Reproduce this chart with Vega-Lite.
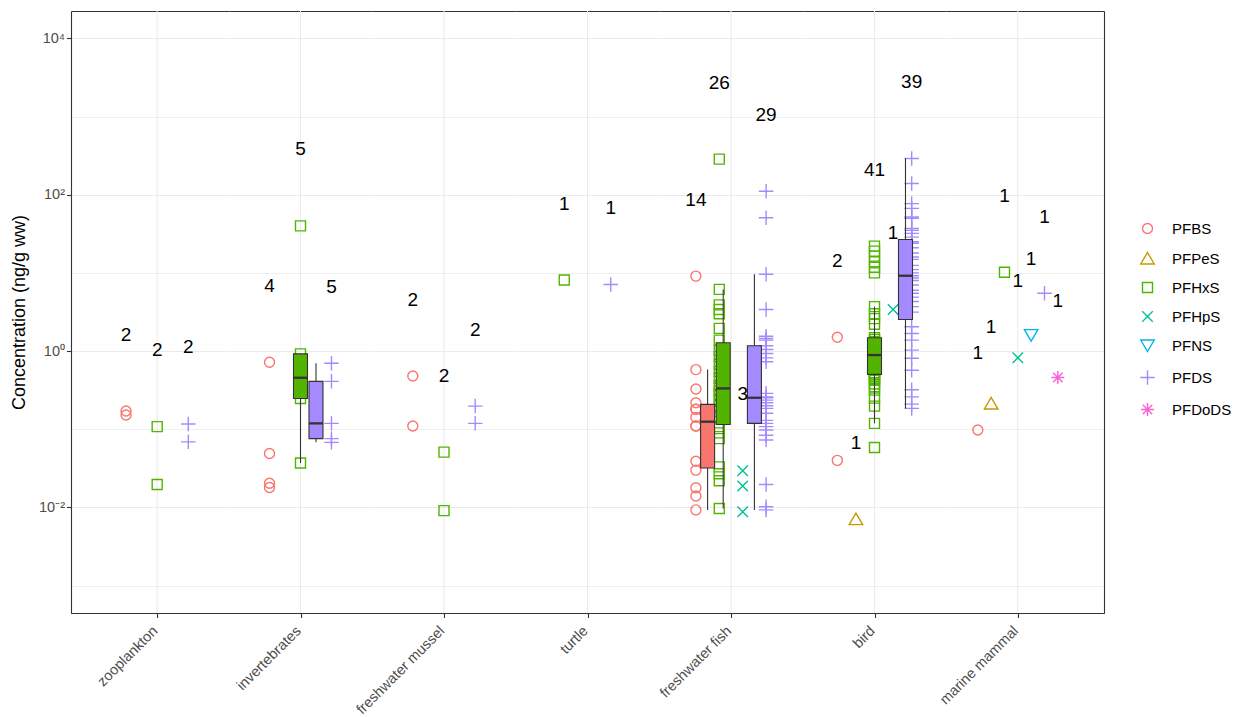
{
 "$schema": "https://vega.github.io/schema/vega-lite/v6.json",
 "padding": {"left": 10, "top": 3, "right": 5, "bottom": 5},
 "background": "white",
 "spacing": 0,
 "bounds": "flush",
 "config": {"font": "Liberation Sans", "view": {"stroke": null}},
 "datasets": {
  "pts": [
   {"category":"zooplankton","compound":"PFBS","value":0.171},
   {"category":"zooplankton","compound":"PFBS","value":0.152},
   {"category":"zooplankton","compound":"PFHxS","value":0.108},
   {"category":"zooplankton","compound":"PFHxS","value":0.0197},
   {"category":"zooplankton","compound":"PFDS","value":0.117},
   {"category":"zooplankton","compound":"PFDS","value":0.069},
   {"category":"invertebrates","compound":"PFBS","value":0.72},
   {"category":"invertebrates","compound":"PFBS","value":0.049},
   {"category":"invertebrates","compound":"PFBS","value":0.0204},
   {"category":"invertebrates","compound":"PFBS","value":0.018},
   {"category":"invertebrates","compound":"PFHxS","value":40},
   {"category":"invertebrates","compound":"PFHxS","value":0.92},
   {"category":"invertebrates","compound":"PFHxS","value":0.456},
   {"category":"invertebrates","compound":"PFHxS","value":0.248},
   {"category":"invertebrates","compound":"PFHxS","value":0.037},
   {"category":"invertebrates","compound":"PFDS","value":0.7},
   {"category":"invertebrates","compound":"PFDS","value":0.41},
   {"category":"invertebrates","compound":"PFDS","value":0.119},
   {"category":"invertebrates","compound":"PFDS","value":0.076},
   {"category":"invertebrates","compound":"PFDS","value":0.068},
   {"category":"freshwater mussel","compound":"PFBS","value":0.48},
   {"category":"freshwater mussel","compound":"PFBS","value":0.11},
   {"category":"freshwater mussel","compound":"PFHxS","value":0.051},
   {"category":"freshwater mussel","compound":"PFHxS","value":0.0091},
   {"category":"freshwater mussel","compound":"PFDS","value":0.198},
   {"category":"freshwater mussel","compound":"PFDS","value":0.119},
   {"category":"turtle","compound":"PFHxS","value":8.1},
   {"category":"turtle","compound":"PFDS","value":7.1},
   {"category":"freshwater fish","compound":"PFBS","value":9.1},
   {"category":"freshwater fish","compound":"PFBS","value":0.58},
   {"category":"freshwater fish","compound":"PFBS","value":0.327},
   {"category":"freshwater fish","compound":"PFBS","value":0.218},
   {"category":"freshwater fish","compound":"PFBS","value":0.18},
   {"category":"freshwater fish","compound":"PFBS","value":0.18},
   {"category":"freshwater fish","compound":"PFBS","value":0.142},
   {"category":"freshwater fish","compound":"PFBS","value":0.11},
   {"category":"freshwater fish","compound":"PFBS","value":0.11},
   {"category":"freshwater fish","compound":"PFBS","value":0.039},
   {"category":"freshwater fish","compound":"PFBS","value":0.03},
   {"category":"freshwater fish","compound":"PFBS","value":0.0179},
   {"category":"freshwater fish","compound":"PFBS","value":0.014},
   {"category":"freshwater fish","compound":"PFBS","value":0.0093},
   {"category":"freshwater fish","compound":"PFHxS","value":285},
   {"category":"freshwater fish","compound":"PFHxS","value":6.15},
   {"category":"freshwater fish","compound":"PFHxS","value":3.9},
   {"category":"freshwater fish","compound":"PFHxS","value":3.4},
   {"category":"freshwater fish","compound":"PFHxS","value":3.0},
   {"category":"freshwater fish","compound":"PFHxS","value":1.95},
   {"category":"freshwater fish","compound":"PFHxS","value":1.38},
   {"category":"freshwater fish","compound":"PFHxS","value":1.02},
   {"category":"freshwater fish","compound":"PFHxS","value":0.85},
   {"category":"freshwater fish","compound":"PFHxS","value":0.68},
   {"category":"freshwater fish","compound":"PFHxS","value":0.55},
   {"category":"freshwater fish","compound":"PFHxS","value":0.45},
   {"category":"freshwater fish","compound":"PFHxS","value":0.36},
   {"category":"freshwater fish","compound":"PFHxS","value":0.31},
   {"category":"freshwater fish","compound":"PFHxS","value":0.28},
   {"category":"freshwater fish","compound":"PFHxS","value":0.24},
   {"category":"freshwater fish","compound":"PFHxS","value":0.2},
   {"category":"freshwater fish","compound":"PFHxS","value":0.17},
   {"category":"freshwater fish","compound":"PFHxS","value":0.14},
   {"category":"freshwater fish","compound":"PFHxS","value":0.108},
   {"category":"freshwater fish","compound":"PFHxS","value":0.09},
   {"category":"freshwater fish","compound":"PFHxS","value":0.076},
   {"category":"freshwater fish","compound":"PFHxS","value":0.033},
   {"category":"freshwater fish","compound":"PFHxS","value":0.027},
   {"category":"freshwater fish","compound":"PFHxS","value":0.022},
   {"category":"freshwater fish","compound":"PFHxS","value":0.0097},
   {"category":"freshwater fish","compound":"PFHpS","value":0.0295},
   {"category":"freshwater fish","compound":"PFHpS","value":0.0188},
   {"category":"freshwater fish","compound":"PFHpS","value":0.0088},
   {"category":"freshwater fish","compound":"PFDS","value":111},
   {"category":"freshwater fish","compound":"PFDS","value":50.7},
   {"category":"freshwater fish","compound":"PFDS","value":9.6},
   {"category":"freshwater fish","compound":"PFDS","value":3.4},
   {"category":"freshwater fish","compound":"PFDS","value":1.55},
   {"category":"freshwater fish","compound":"PFDS","value":1.45},
   {"category":"freshwater fish","compound":"PFDS","value":1.38},
   {"category":"freshwater fish","compound":"PFDS","value":1.17},
   {"category":"freshwater fish","compound":"PFDS","value":1.05},
   {"category":"freshwater fish","compound":"PFDS","value":0.93},
   {"category":"freshwater fish","compound":"PFDS","value":0.82},
   {"category":"freshwater fish","compound":"PFDS","value":0.73},
   {"category":"freshwater fish","compound":"PFDS","value":0.288},
   {"category":"freshwater fish","compound":"PFDS","value":0.26},
   {"category":"freshwater fish","compound":"PFDS","value":0.253},
   {"category":"freshwater fish","compound":"PFDS","value":0.236},
   {"category":"freshwater fish","compound":"PFDS","value":0.218},
   {"category":"freshwater fish","compound":"PFDS","value":0.2},
   {"category":"freshwater fish","compound":"PFDS","value":0.185},
   {"category":"freshwater fish","compound":"PFDS","value":0.16},
   {"category":"freshwater fish","compound":"PFDS","value":0.13},
   {"category":"freshwater fish","compound":"PFDS","value":0.119},
   {"category":"freshwater fish","compound":"PFDS","value":0.108},
   {"category":"freshwater fish","compound":"PFDS","value":0.098},
   {"category":"freshwater fish","compound":"PFDS","value":0.084},
   {"category":"freshwater fish","compound":"PFDS","value":0.073},
   {"category":"freshwater fish","compound":"PFDS","value":0.0197},
   {"category":"freshwater fish","compound":"PFDS","value":0.0102},
   {"category":"freshwater fish","compound":"PFDS","value":0.0093},
   {"category":"bird","compound":"PFBS","value":1.5},
   {"category":"bird","compound":"PFBS","value":0.04},
   {"category":"bird","compound":"PFPeS","value":0.0071},
   {"category":"bird","compound":"PFHxS","value":22},
   {"category":"bird","compound":"PFHxS","value":19},
   {"category":"bird","compound":"PFHxS","value":16.4},
   {"category":"bird","compound":"PFHxS","value":13.9},
   {"category":"bird","compound":"PFHxS","value":11.8},
   {"category":"bird","compound":"PFHxS","value":10.0},
   {"category":"bird","compound":"PFHxS","value":3.7},
   {"category":"bird","compound":"PFHxS","value":3.0},
   {"category":"bird","compound":"PFHxS","value":2.6},
   {"category":"bird","compound":"PFHxS","value":2.2},
   {"category":"bird","compound":"PFHxS","value":1.48},
   {"category":"bird","compound":"PFHxS","value":1.4},
   {"category":"bird","compound":"PFHxS","value":1.32},
   {"category":"bird","compound":"PFHxS","value":1.25},
   {"category":"bird","compound":"PFHxS","value":1.18},
   {"category":"bird","compound":"PFHxS","value":1.1},
   {"category":"bird","compound":"PFHxS","value":1.05},
   {"category":"bird","compound":"PFHxS","value":1.0},
   {"category":"bird","compound":"PFHxS","value":0.96},
   {"category":"bird","compound":"PFHxS","value":0.92},
   {"category":"bird","compound":"PFHxS","value":0.89},
   {"category":"bird","compound":"PFHxS","value":0.86},
   {"category":"bird","compound":"PFHxS","value":0.82},
   {"category":"bird","compound":"PFHxS","value":0.78},
   {"category":"bird","compound":"PFHxS","value":0.74},
   {"category":"bird","compound":"PFHxS","value":0.7},
   {"category":"bird","compound":"PFHxS","value":0.65},
   {"category":"bird","compound":"PFHxS","value":0.6},
   {"category":"bird","compound":"PFHxS","value":0.57},
   {"category":"bird","compound":"PFHxS","value":0.53},
   {"category":"bird","compound":"PFHxS","value":0.503},
   {"category":"bird","compound":"PFHxS","value":0.48},
   {"category":"bird","compound":"PFHxS","value":0.45},
   {"category":"bird","compound":"PFHxS","value":0.43},
   {"category":"bird","compound":"PFHxS","value":0.38},
   {"category":"bird","compound":"PFHxS","value":0.35},
   {"category":"bird","compound":"PFHxS","value":0.317},
   {"category":"bird","compound":"PFHxS","value":0.25},
   {"category":"bird","compound":"PFHxS","value":0.198},
   {"category":"bird","compound":"PFHxS","value":0.119},
   {"category":"bird","compound":"PFHxS","value":0.0585},
   {"category":"bird","compound":"PFHpS","value":3.4},
   {"category":"bird","compound":"PFDS","value":291},
   {"category":"bird","compound":"PFDS","value":139},
   {"category":"bird","compound":"PFDS","value":77},
   {"category":"bird","compound":"PFDS","value":67},
   {"category":"bird","compound":"PFDS","value":52},
   {"category":"bird","compound":"PFDS","value":50},
   {"category":"bird","compound":"PFDS","value":37},
   {"category":"bird","compound":"PFDS","value":35},
   {"category":"bird","compound":"PFDS","value":32},
   {"category":"bird","compound":"PFDS","value":28.7},
   {"category":"bird","compound":"PFDS","value":25},
   {"category":"bird","compound":"PFDS","value":24},
   {"category":"bird","compound":"PFDS","value":21},
   {"category":"bird","compound":"PFDS","value":18},
   {"category":"bird","compound":"PFDS","value":16},
   {"category":"bird","compound":"PFDS","value":14.9},
   {"category":"bird","compound":"PFDS","value":12.5},
   {"category":"bird","compound":"PFDS","value":11},
   {"category":"bird","compound":"PFDS","value":10},
   {"category":"bird","compound":"PFDS","value":9.2},
   {"category":"bird","compound":"PFDS","value":8.6},
   {"category":"bird","compound":"PFDS","value":8.0},
   {"category":"bird","compound":"PFDS","value":7.0},
   {"category":"bird","compound":"PFDS","value":6.0},
   {"category":"bird","compound":"PFDS","value":5.5},
   {"category":"bird","compound":"PFDS","value":4.9},
   {"category":"bird","compound":"PFDS","value":4.3},
   {"category":"bird","compound":"PFDS","value":3.7},
   {"category":"bird","compound":"PFDS","value":3.15},
   {"category":"bird","compound":"PFDS","value":2.05},
   {"category":"bird","compound":"PFDS","value":1.68},
   {"category":"bird","compound":"PFDS","value":1.38},
   {"category":"bird","compound":"PFDS","value":1.03},
   {"category":"bird","compound":"PFDS","value":0.81},
   {"category":"bird","compound":"PFDS","value":0.57},
   {"category":"bird","compound":"PFDS","value":0.32},
   {"category":"bird","compound":"PFDS","value":0.26},
   {"category":"bird","compound":"PFDS","value":0.21},
   {"category":"bird","compound":"PFDS","value":0.185},
   {"category":"marine mammal","compound":"PFBS","value":0.098},
   {"category":"marine mammal","compound":"PFPeS","value":0.214},
   {"category":"marine mammal","compound":"PFHxS","value":10.2},
   {"category":"marine mammal","compound":"PFHpS","value":0.82},
   {"category":"marine mammal","compound":"PFNS","value":1.6},
   {"category":"marine mammal","compound":"PFDS","value":5.5},
   {"category":"marine mammal","compound":"PFDoDS","value":0.46}
  ],
  "box": [
   {"category":"invertebrates","compound":"PFHxS","lo":0.037,"q1":0.248,"median":0.456,"q3":0.92,"hi":0.92},
   {"category":"invertebrates","compound":"PFDS","lo":0.068,"q1":0.076,"median":0.119,"q3":0.41,"hi":0.7},
   {"category":"freshwater fish","compound":"PFBS","lo":0.0093,"q1":0.032,"median":0.125,"q3":0.208,"hi":0.58},
   {"category":"freshwater fish","compound":"PFHxS","lo":0.0097,"q1":0.115,"median":0.333,"q3":1.28,"hi":6.15},
   {"category":"freshwater fish","compound":"PFDS","lo":0.0093,"q1":0.119,"median":0.253,"q3":1.17,"hi":9.6},
   {"category":"bird","compound":"PFHxS","lo":0.119,"q1":0.503,"median":0.89,"q3":1.48,"hi":3.7},
   {"category":"bird","compound":"PFDS","lo":0.185,"q1":2.54,"median":9.2,"q3":26.8,"hi":291}
  ]
 },
 "hconcat": [
  {
   "width": 158, "height": 602,
   "layer": [
    {"data": {"name": "pts"}, "transform": [{"filter": "datum.category == 'zooplankton'"}, {"aggregate": [{"op": "count", "as": "n"}], "groupby": ["category"]}],
     "mark": {"type": "rule", "color": "#EBEBEB", "strokeWidth": 1.1},
     "encoding": {"x": {"field": "category", "type": "nominal", "scale": {"type": "point", "align": 0.5455},
       "axis": {"title": null, "labelAngle": -45, "labelAlign": "right", "labelBaseline": "middle", "labelFontSize": 14.5, "labelColor": "#4D4D4D", "labelPadding": 11, "labelOffset": -2, "tickSize": 4.5, "tickColor": "#333333", "tickWidth": 1.1, "domainColor": "#333333", "domainWidth": 1.1, "grid": false}}}},
    {"data": {"name": "pts"}, "transform": [{"filter": "datum.category == 'zooplankton'"}],
     "mark": {"type": "point", "filled": false, "size": 100, "strokeWidth": 1.4, "opacity": 1},
     "encoding": {
      "x": {"field": "compound", "type": "nominal", "scale": {"type": "point", "domain": ["_a","PFBS","PFHxS","PFDS","_b"], "padding": 0.5385, "align": 0.714}, "axis": null},
      "y": {"field": "value", "type": "quantitative", "scale": {"type": "log", "domain": [0.000446684, 22387.21], "nice": false},
        "axis": {"orient": "left", "title": "Concentration (ng/g ww)", "titleFontSize": 18, "titleFontWeight": "normal", "titleColor": "#000000", "titlePadding": 10,
          "values": [0.000446684, 0.001, 0.01, 0.1, 1, 10, 100, 1000, 10000, 22387.21],
          "labelExpr": "datum.value == 10000 ? '10⁴' : datum.value == 100 ? '10²' : datum.value == 1 ? '10⁰' : datum.value == 0.01 ? '10⁻²' : ''",
          "labelFontSize": 14.5, "labelColor": "#4D4D4D", "labelPadding": 2, "labelOverlap": false, "labelFlush": false,
          "tickSize": 4.5, "tickColor": "#333333", "tickWidth": 1.1,
          "tickOpacity": {"condition": {"test": "datum.value == 0.01 || datum.value == 1 || datum.value == 100 || datum.value == 10000", "value": 1}, "value": 0},
          "grid": true,
          "gridColor": {"condition": {"test": "datum.value < 0.0005 || datum.value > 20000", "value": "#333333"}, "value": "#EBEBEB"},
          "gridWidth": {"condition": {"test": "datum.value < 0.0005 || datum.value > 20000 || datum.value == 0.01 || datum.value == 1 || datum.value == 100 || datum.value == 10000", "value": 1.1}, "value": 0.8},
          "domain": true, "domainColor": "#333333", "domainWidth": 1.1}},
      "color": {"field": "compound", "type": "nominal",
        "scale": {"domain": ["PFBS","PFPeS","PFHxS","PFHpS","PFNS","PFDS","PFDoDS"], "range": ["#F8766D","#C49A00","#53B400","#00C094","#00B6EB","#A58AFF","#FB61D7"]},
        "legend": {"title": null, "orient": "none", "legendX": 1069, "legendY": 210, "labelFontSize": 15, "labelColor": "#000000", "labelOffset": 17, "rowPadding": 12, "symbolSize": 100, "symbolStrokeWidth": 1.4, "symbolFillColor": "transparent", "padding": 0}},
      "shape": {"field": "compound", "type": "nominal",
        "scale": {"domain": ["PFBS","PFPeS","PFHxS","PFHpS","PFNS","PFDS","PFDoDS"], "range": ["circle", "M0,-1.2L1.35,1.1L-1.35,1.1Z", "square", "M-1.05,-1.05L1.05,1.05M-1.05,1.05L1.05,-1.05", "M0,1.2L1.35,-1.1L-1.35,-1.1Z", "M-1.45,0L1.45,0M0,-1.45L0,1.45", "M-1.3,0L1.3,0M0,-1.3L0,1.3M-0.95,-0.95L0.95,0.95M-0.95,0.95L0.95,-0.95"]},
        "legend": {"title": null, "orient": "none", "legendX": 1069, "legendY": 210, "labelFontSize": 15, "labelColor": "#000000", "labelOffset": 17, "rowPadding": 12, "symbolSize": 100, "symbolStrokeWidth": 1.4, "symbolFillColor": "transparent", "padding": 0}}
     }},
    {"data": {"name": "pts"}, "transform": [{"filter": "datum.category == 'zooplankton'"}, {"aggregate": [{"op": "count", "as": "n"}, {"op": "max", "field": "value", "as": "vmax"}], "groupby": ["compound"]}],
     "mark": {"type": "text", "dy": -76.5, "fontSize": 19, "color": "#000000", "baseline": "middle", "align": "center"},
     "encoding": {"x": {"field": "compound", "type": "nominal", "scale": {"type": "point", "domain": ["_a","PFBS","PFHxS","PFDS","_b"], "padding": 0.5385, "align": 0.714}, "axis": null},
       "y": {"field": "vmax", "type": "quantitative"}, "text": {"field": "n", "type": "quantitative"}}}
   ],
   "resolve": {"scale": {"x": "independent"}}
  },
  {
   "width": 143, "height": 602,
   "layer": [
    {"data": {"name": "pts"}, "transform": [{"filter": "datum.category == 'invertebrates'"}, {"aggregate": [{"op": "count", "as": "n"}], "groupby": ["category"]}],
     "mark": {"type": "rule", "color": "#EBEBEB", "strokeWidth": 1.1},
     "encoding": {"x": {"field": "category", "type": "nominal", "scale": {"type": "point", "align": 0.5},
       "axis": {"title": null, "labelAngle": -45, "labelAlign": "right", "labelBaseline": "middle", "labelFontSize": 14.5, "labelColor": "#4D4D4D", "labelPadding": 11, "labelOffset": -2, "tickSize": 4.5, "tickColor": "#333333", "tickWidth": 1.1, "domainColor": "#333333", "domainWidth": 1.1, "grid": false}}}},
    {"data": {"name": "pts"}, "transform": [{"filter": "datum.category == 'invertebrates'"}],
     "mark": {"type": "point", "filled": false, "size": 100, "strokeWidth": 1.4, "opacity": 1},
     "encoding": {
      "x": {"field": "compound", "type": "nominal", "scale": {"type": "point", "domain": ["_a","PFBS","PFHxS","PFDS","_b"], "padding": 0.3077, "align": 0.5}, "axis": null},
      "y": {"field": "value", "type": "quantitative", "scale": {"type": "log", "domain": [0.000446684, 22387.21], "nice": false},
        "axis": {"orient": "left", "title": null, "values": [0.000446684, 0.001, 0.01, 0.1, 1, 10, 100, 1000, 10000, 22387.21], "labels": false, "ticks": false, "domain": false, "grid": true,
          "gridColor": {"condition": {"test": "datum.value < 0.0005 || datum.value > 20000", "value": "#333333"}, "value": "#EBEBEB"},
          "gridWidth": {"condition": {"test": "datum.value < 0.0005 || datum.value > 20000 || datum.value == 0.01 || datum.value == 1 || datum.value == 100 || datum.value == 10000", "value": 1.1}, "value": 0.8}}},
      "color": {"field": "compound", "type": "nominal", "scale": {"domain": ["PFBS","PFPeS","PFHxS","PFHpS","PFNS","PFDS","PFDoDS"], "range": ["#F8766D","#C49A00","#53B400","#00C094","#00B6EB","#A58AFF","#FB61D7"]}},
      "shape": {"field": "compound", "type": "nominal", "scale": {"domain": ["PFBS","PFPeS","PFHxS","PFHpS","PFNS","PFDS","PFDoDS"], "range": ["circle", "M0,-1.2L1.35,1.1L-1.35,1.1Z", "square", "M-1.05,-1.05L1.05,1.05M-1.05,1.05L1.05,-1.05", "M0,1.2L1.35,-1.1L-1.35,-1.1Z", "M-1.45,0L1.45,0M0,-1.45L0,1.45", "M-1.3,0L1.3,0M0,-1.3L0,1.3M-0.95,-0.95L0.95,0.95M-0.95,0.95L0.95,-0.95"]}}
     }},
    {"data": {"name": "box"}, "transform": [{"filter": "datum.category == 'invertebrates'"}],
     "layer": [
      {"mark": {"type": "rule", "color": "#333333", "strokeWidth": 1.1},
       "encoding": {"x": {"field": "compound", "type": "nominal", "scale": {"type": "point", "domain": ["_a","_b","_c","_d","PFHxS","PFDS","_e","_f","_g"], "padding": 0.615, "align": 0.5}, "axis": null},
         "y": {"field": "lo", "type": "quantitative"}, "y2": {"field": "hi"}}},
      {"mark": {"type": "bar", "width": 14, "stroke": "#333333", "strokeWidth": 1.1},
       "encoding": {"x": {"field": "compound", "type": "nominal"}, "y": {"field": "q1", "type": "quantitative"}, "y2": {"field": "q3"},
         "fill": {"field": "compound", "type": "nominal", "scale": {"domain": ["PFBS","PFHxS","PFDS"], "range": ["#F8766D","#53B400","#A58AFF"]}, "legend": null}}},
      {"mark": {"type": "tick", "color": "#333333", "size": 14, "thickness": 2.3, "opacity": 1},
       "encoding": {"x": {"field": "compound", "type": "nominal"}, "y": {"field": "median", "type": "quantitative"}}}
     ]},
    {"data": {"name": "pts"}, "transform": [{"filter": "datum.category == 'invertebrates'"}, {"aggregate": [{"op": "count", "as": "n"}, {"op": "max", "field": "value", "as": "vmax"}], "groupby": ["compound"]}],
     "mark": {"type": "text", "dy": -76.5, "fontSize": 19, "color": "#000000", "baseline": "middle", "align": "center"},
     "encoding": {"x": {"field": "compound", "type": "nominal", "scale": {"type": "point", "domain": ["_a","PFBS","PFHxS","PFDS","_b"], "padding": 0.3077, "align": 0.5}, "axis": null},
       "y": {"field": "vmax", "type": "quantitative"}, "text": {"field": "n", "type": "quantitative"}}}
   ],
   "resolve": {"scale": {"x": "independent"}}
  },
  {
   "width": 144, "height": 602,
   "layer": [
    {"data": {"name": "pts"}, "transform": [{"filter": "datum.category == 'freshwater mussel'"}, {"aggregate": [{"op": "count", "as": "n"}], "groupby": ["category"]}],
     "mark": {"type": "rule", "color": "#EBEBEB", "strokeWidth": 1.1},
     "encoding": {"x": {"field": "category", "type": "nominal", "scale": {"type": "point", "align": 0.5},
       "axis": {"title": null, "labelAngle": -45, "labelAlign": "right", "labelBaseline": "middle", "labelFontSize": 14.5, "labelColor": "#4D4D4D", "labelPadding": 11, "labelOffset": -2, "tickSize": 4.5, "tickColor": "#333333", "tickWidth": 1.1, "domainColor": "#333333", "domainWidth": 1.1, "grid": false}}}},
    {"data": {"name": "pts"}, "transform": [{"filter": "datum.category == 'freshwater mussel'"}],
     "mark": {"type": "point", "filled": false, "size": 100, "strokeWidth": 1.4, "opacity": 1},
     "encoding": {
      "x": {"field": "compound", "type": "nominal", "scale": {"type": "point", "domain": ["_a","PFBS","PFHxS","PFDS","_b"], "padding": 0.3077, "align": 0.5}, "axis": null},
      "y": {"field": "value", "type": "quantitative", "scale": {"type": "log", "domain": [0.000446684, 22387.21], "nice": false},
        "axis": {"orient": "left", "title": null, "values": [0.000446684, 0.001, 0.01, 0.1, 1, 10, 100, 1000, 10000, 22387.21], "labels": false, "ticks": false, "domain": false, "grid": true,
          "gridColor": {"condition": {"test": "datum.value < 0.0005 || datum.value > 20000", "value": "#333333"}, "value": "#EBEBEB"},
          "gridWidth": {"condition": {"test": "datum.value < 0.0005 || datum.value > 20000 || datum.value == 0.01 || datum.value == 1 || datum.value == 100 || datum.value == 10000", "value": 1.1}, "value": 0.8}}},
      "color": {"field": "compound", "type": "nominal", "scale": {"domain": ["PFBS","PFPeS","PFHxS","PFHpS","PFNS","PFDS","PFDoDS"], "range": ["#F8766D","#C49A00","#53B400","#00C094","#00B6EB","#A58AFF","#FB61D7"]}},
      "shape": {"field": "compound", "type": "nominal", "scale": {"domain": ["PFBS","PFPeS","PFHxS","PFHpS","PFNS","PFDS","PFDoDS"], "range": ["circle", "M0,-1.2L1.35,1.1L-1.35,1.1Z", "square", "M-1.05,-1.05L1.05,1.05M-1.05,1.05L1.05,-1.05", "M0,1.2L1.35,-1.1L-1.35,-1.1Z", "M-1.45,0L1.45,0M0,-1.45L0,1.45", "M-1.3,0L1.3,0M0,-1.3L0,1.3M-0.95,-0.95L0.95,0.95M-0.95,0.95L0.95,-0.95"]}}
     }},
    {"data": {"name": "pts"}, "transform": [{"filter": "datum.category == 'freshwater mussel'"}, {"aggregate": [{"op": "count", "as": "n"}, {"op": "max", "field": "value", "as": "vmax"}], "groupby": ["compound"]}],
     "mark": {"type": "text", "dy": -76.5, "fontSize": 19, "color": "#000000", "baseline": "middle", "align": "center"},
     "encoding": {"x": {"field": "compound", "type": "nominal", "scale": {"type": "point", "domain": ["_a","PFBS","PFHxS","PFDS","_b"], "padding": 0.3077, "align": 0.5}, "axis": null},
       "y": {"field": "vmax", "type": "quantitative"}, "text": {"field": "n", "type": "quantitative"}}}
   ],
   "resolve": {"scale": {"x": "independent"}}
  },
  {
   "width": 143, "height": 602,
   "layer": [
    {"data": {"name": "pts"}, "transform": [{"filter": "datum.category == 'turtle'"}, {"aggregate": [{"op": "count", "as": "n"}], "groupby": ["category"]}],
     "mark": {"type": "rule", "color": "#EBEBEB", "strokeWidth": 1.1},
     "encoding": {"x": {"field": "category", "type": "nominal", "scale": {"type": "point", "align": 0.5},
       "axis": {"title": null, "labelAngle": -45, "labelAlign": "right", "labelBaseline": "middle", "labelFontSize": 14.5, "labelColor": "#4D4D4D", "labelPadding": 11, "labelOffset": -2, "tickSize": 4.5, "tickColor": "#333333", "tickWidth": 1.1, "domainColor": "#333333", "domainWidth": 1.1, "grid": false}}}},
    {"data": {"name": "pts"}, "transform": [{"filter": "datum.category == 'turtle'"}],
     "mark": {"type": "point", "filled": false, "size": 100, "strokeWidth": 1.4, "opacity": 1},
     "encoding": {
      "x": {"field": "compound", "type": "nominal", "scale": {"type": "point", "domain": ["_a","PFHxS","PFDS","_b"], "padding": 0.0385, "align": 0.5}, "axis": null},
      "y": {"field": "value", "type": "quantitative", "scale": {"type": "log", "domain": [0.000446684, 22387.21], "nice": false},
        "axis": {"orient": "left", "title": null, "values": [0.000446684, 0.001, 0.01, 0.1, 1, 10, 100, 1000, 10000, 22387.21], "labels": false, "ticks": false, "domain": false, "grid": true,
          "gridColor": {"condition": {"test": "datum.value < 0.0005 || datum.value > 20000", "value": "#333333"}, "value": "#EBEBEB"},
          "gridWidth": {"condition": {"test": "datum.value < 0.0005 || datum.value > 20000 || datum.value == 0.01 || datum.value == 1 || datum.value == 100 || datum.value == 10000", "value": 1.1}, "value": 0.8}}},
      "color": {"field": "compound", "type": "nominal", "scale": {"domain": ["PFBS","PFPeS","PFHxS","PFHpS","PFNS","PFDS","PFDoDS"], "range": ["#F8766D","#C49A00","#53B400","#00C094","#00B6EB","#A58AFF","#FB61D7"]}},
      "shape": {"field": "compound", "type": "nominal", "scale": {"domain": ["PFBS","PFPeS","PFHxS","PFHpS","PFNS","PFDS","PFDoDS"], "range": ["circle", "M0,-1.2L1.35,1.1L-1.35,1.1Z", "square", "M-1.05,-1.05L1.05,1.05M-1.05,1.05L1.05,-1.05", "M0,1.2L1.35,-1.1L-1.35,-1.1Z", "M-1.45,0L1.45,0M0,-1.45L0,1.45", "M-1.3,0L1.3,0M0,-1.3L0,1.3M-0.95,-0.95L0.95,0.95M-0.95,0.95L0.95,-0.95"]}}
     }},
    {"data": {"name": "pts"}, "transform": [{"filter": "datum.category == 'turtle'"}, {"aggregate": [{"op": "count", "as": "n"}, {"op": "max", "field": "value", "as": "vmax"}], "groupby": ["compound"]}],
     "mark": {"type": "text", "dy": -76.5, "fontSize": 19, "color": "#000000", "baseline": "middle", "align": "center"},
     "encoding": {"x": {"field": "compound", "type": "nominal", "scale": {"type": "point", "domain": ["_a","PFHxS","PFDS","_b"], "padding": 0.0385, "align": 0.5}, "axis": null},
       "y": {"field": "vmax", "type": "quantitative"}, "text": {"field": "n", "type": "quantitative"}}}
   ],
   "resolve": {"scale": {"x": "independent"}}
  },
  {
   "width": 144, "height": 602,
   "layer": [
    {"data": {"name": "pts"}, "transform": [{"filter": "datum.category == 'freshwater fish'"}, {"aggregate": [{"op": "count", "as": "n"}], "groupby": ["category"]}],
     "mark": {"type": "rule", "color": "#EBEBEB", "strokeWidth": 1.1},
     "encoding": {"x": {"field": "category", "type": "nominal", "scale": {"type": "point", "align": 0.5},
       "axis": {"title": null, "labelAngle": -45, "labelAlign": "right", "labelBaseline": "middle", "labelFontSize": 14.5, "labelColor": "#4D4D4D", "labelPadding": 11, "labelOffset": -2, "tickSize": 4.5, "tickColor": "#333333", "tickWidth": 1.1, "domainColor": "#333333", "domainWidth": 1.1, "grid": false}}}},
    {"data": {"name": "pts"}, "transform": [{"filter": "datum.category == 'freshwater fish'"}],
     "mark": {"type": "point", "filled": false, "size": 100, "strokeWidth": 1.4, "opacity": 1},
     "encoding": {
      "x": {"field": "compound", "type": "nominal", "scale": {"type": "point", "domain": ["_a","PFBS","PFHxS","PFHpS","PFDS","_b"], "padding": 0.577, "align": 0.5}, "axis": null},
      "y": {"field": "value", "type": "quantitative", "scale": {"type": "log", "domain": [0.000446684, 22387.21], "nice": false},
        "axis": {"orient": "left", "title": null, "values": [0.000446684, 0.001, 0.01, 0.1, 1, 10, 100, 1000, 10000, 22387.21], "labels": false, "ticks": false, "domain": false, "grid": true,
          "gridColor": {"condition": {"test": "datum.value < 0.0005 || datum.value > 20000", "value": "#333333"}, "value": "#EBEBEB"},
          "gridWidth": {"condition": {"test": "datum.value < 0.0005 || datum.value > 20000 || datum.value == 0.01 || datum.value == 1 || datum.value == 100 || datum.value == 10000", "value": 1.1}, "value": 0.8}}},
      "color": {"field": "compound", "type": "nominal", "scale": {"domain": ["PFBS","PFPeS","PFHxS","PFHpS","PFNS","PFDS","PFDoDS"], "range": ["#F8766D","#C49A00","#53B400","#00C094","#00B6EB","#A58AFF","#FB61D7"]}},
      "shape": {"field": "compound", "type": "nominal", "scale": {"domain": ["PFBS","PFPeS","PFHxS","PFHpS","PFNS","PFDS","PFDoDS"], "range": ["circle", "M0,-1.2L1.35,1.1L-1.35,1.1Z", "square", "M-1.05,-1.05L1.05,1.05M-1.05,1.05L1.05,-1.05", "M0,1.2L1.35,-1.1L-1.35,-1.1Z", "M-1.45,0L1.45,0M0,-1.45L0,1.45", "M-1.3,0L1.3,0M0,-1.3L0,1.3M-0.95,-0.95L0.95,0.95M-0.95,0.95L0.95,-0.95"]}}
     }},
    {"data": {"name": "box"}, "transform": [{"filter": "datum.category == 'freshwater fish'"}],
     "layer": [
      {"mark": {"type": "rule", "color": "#333333", "strokeWidth": 1.1},
       "encoding": {"x": {"field": "compound", "type": "nominal", "scale": {"type": "point", "domain": ["_a","_b","_c","PFBS","PFHxS","PFHpS","PFDS","_d","_e","_f"], "padding": 0.115, "align": 0.5}, "axis": null},
         "y": {"field": "lo", "type": "quantitative"}, "y2": {"field": "hi"}}},
      {"mark": {"type": "bar", "width": 14, "stroke": "#333333", "strokeWidth": 1.1},
       "encoding": {"x": {"field": "compound", "type": "nominal"}, "y": {"field": "q1", "type": "quantitative"}, "y2": {"field": "q3"},
         "fill": {"field": "compound", "type": "nominal", "scale": {"domain": ["PFBS","PFHxS","PFDS"], "range": ["#F8766D","#53B400","#A58AFF"]}, "legend": null}}},
      {"mark": {"type": "tick", "color": "#333333", "size": 14, "thickness": 2.3, "opacity": 1},
       "encoding": {"x": {"field": "compound", "type": "nominal"}, "y": {"field": "median", "type": "quantitative"}}}
     ]},
    {"data": {"name": "pts"}, "transform": [{"filter": "datum.category == 'freshwater fish'"}, {"aggregate": [{"op": "count", "as": "n"}, {"op": "max", "field": "value", "as": "vmax"}], "groupby": ["compound"]}],
     "mark": {"type": "text", "dy": -76.5, "fontSize": 19, "color": "#000000", "baseline": "middle", "align": "center"},
     "encoding": {"x": {"field": "compound", "type": "nominal", "scale": {"type": "point", "domain": ["_a","PFBS","PFHxS","PFHpS","PFDS","_b"], "padding": 0.577, "align": 0.5}, "axis": null},
       "y": {"field": "vmax", "type": "quantitative"}, "text": {"field": "n", "type": "quantitative"}}}
   ],
   "resolve": {"scale": {"x": "independent"}}
  },
  {
   "width": 143, "height": 602,
   "layer": [
    {"data": {"name": "pts"}, "transform": [{"filter": "datum.category == 'bird'"}, {"aggregate": [{"op": "count", "as": "n"}], "groupby": ["category"]}],
     "mark": {"type": "rule", "color": "#EBEBEB", "strokeWidth": 1.1},
     "encoding": {"x": {"field": "category", "type": "nominal", "scale": {"type": "point", "align": 0.5},
       "axis": {"title": null, "labelAngle": -45, "labelAlign": "right", "labelBaseline": "middle", "labelFontSize": 14.5, "labelColor": "#4D4D4D", "labelPadding": 11, "labelOffset": -2, "tickSize": 4.5, "tickColor": "#333333", "tickWidth": 1.1, "domainColor": "#333333", "domainWidth": 1.1, "grid": false}}}},
    {"data": {"name": "pts"}, "transform": [{"filter": "datum.category == 'bird'"}],
     "mark": {"type": "point", "filled": false, "size": 100, "strokeWidth": 1.4, "opacity": 1},
     "encoding": {
      "x": {"field": "compound", "type": "nominal", "scale": {"type": "point", "domain": ["_a","PFBS","PFPeS","PFHxS","PFHpS","PFDS","_b"], "padding": 0.846, "align": 0.5}, "axis": null},
      "y": {"field": "value", "type": "quantitative", "scale": {"type": "log", "domain": [0.000446684, 22387.21], "nice": false},
        "axis": {"orient": "left", "title": null, "values": [0.000446684, 0.001, 0.01, 0.1, 1, 10, 100, 1000, 10000, 22387.21], "labels": false, "ticks": false, "domain": false, "grid": true,
          "gridColor": {"condition": {"test": "datum.value < 0.0005 || datum.value > 20000", "value": "#333333"}, "value": "#EBEBEB"},
          "gridWidth": {"condition": {"test": "datum.value < 0.0005 || datum.value > 20000 || datum.value == 0.01 || datum.value == 1 || datum.value == 100 || datum.value == 10000", "value": 1.1}, "value": 0.8}}},
      "color": {"field": "compound", "type": "nominal", "scale": {"domain": ["PFBS","PFPeS","PFHxS","PFHpS","PFNS","PFDS","PFDoDS"], "range": ["#F8766D","#C49A00","#53B400","#00C094","#00B6EB","#A58AFF","#FB61D7"]}},
      "shape": {"field": "compound", "type": "nominal", "scale": {"domain": ["PFBS","PFPeS","PFHxS","PFHpS","PFNS","PFDS","PFDoDS"], "range": ["circle", "M0,-1.2L1.35,1.1L-1.35,1.1Z", "square", "M-1.05,-1.05L1.05,1.05M-1.05,1.05L1.05,-1.05", "M0,1.2L1.35,-1.1L-1.35,-1.1Z", "M-1.45,0L1.45,0M0,-1.45L0,1.45", "M-1.3,0L1.3,0M0,-1.3L0,1.3M-0.95,-0.95L0.95,0.95M-0.95,0.95L0.95,-0.95"]}}
     }},
    {"data": {"name": "box"}, "transform": [{"filter": "datum.category == 'bird'"}],
     "layer": [
      {"mark": {"type": "rule", "color": "#333333", "strokeWidth": 1.1},
       "encoding": {"x": {"field": "compound", "type": "nominal", "scale": {"type": "point", "domain": ["_a","_b","PFHxS","PFDS","_c"], "padding": 0.3077, "align": 0.5}, "axis": null},
         "y": {"field": "lo", "type": "quantitative"}, "y2": {"field": "hi"}}},
      {"mark": {"type": "bar", "width": 14, "stroke": "#333333", "strokeWidth": 1.1},
       "encoding": {"x": {"field": "compound", "type": "nominal"}, "y": {"field": "q1", "type": "quantitative"}, "y2": {"field": "q3"},
         "fill": {"field": "compound", "type": "nominal", "scale": {"domain": ["PFBS","PFHxS","PFDS"], "range": ["#F8766D","#53B400","#A58AFF"]}, "legend": null}}},
      {"mark": {"type": "tick", "color": "#333333", "size": 14, "thickness": 2.3, "opacity": 1},
       "encoding": {"x": {"field": "compound", "type": "nominal"}, "y": {"field": "median", "type": "quantitative"}}}
     ]},
    {"data": {"name": "pts"}, "transform": [{"filter": "datum.category == 'bird'"}, {"aggregate": [{"op": "count", "as": "n"}, {"op": "max", "field": "value", "as": "vmax"}], "groupby": ["compound"]}],
     "mark": {"type": "text", "dy": -76.5, "fontSize": 19, "color": "#000000", "baseline": "middle", "align": "center"},
     "encoding": {"x": {"field": "compound", "type": "nominal", "scale": {"type": "point", "domain": ["_a","PFBS","PFPeS","PFHxS","PFHpS","PFDS","_b"], "padding": 0.846, "align": 0.5}, "axis": null},
       "y": {"field": "vmax", "type": "quantitative"}, "text": {"field": "n", "type": "quantitative"}}}
   ],
   "resolve": {"scale": {"x": "independent"}}
  },
  {
   "width": 158, "height": 602,
   "layer": [
    {"data": {"name": "pts"}, "transform": [{"filter": "datum.category == 'marine mammal'"}, {"aggregate": [{"op": "count", "as": "n"}], "groupby": ["category"]}],
     "mark": {"type": "rule", "color": "#EBEBEB", "strokeWidth": 1.1},
     "encoding": {"x": {"field": "category", "type": "nominal", "scale": {"type": "point", "align": 0.4545},
       "axis": {"title": null, "labelAngle": -45, "labelAlign": "right", "labelBaseline": "middle", "labelFontSize": 14.5, "labelColor": "#4D4D4D", "labelPadding": 11, "labelOffset": -2, "tickSize": 4.5, "tickColor": "#333333", "tickWidth": 1.1, "domainColor": "#333333", "domainWidth": 1.1, "grid": false}}}},
    {"data": {"name": "pts"}, "transform": [{"filter": "datum.category == 'marine mammal'"}],
     "mark": {"type": "point", "filled": false, "size": 100, "strokeWidth": 1.4, "opacity": 1},
     "encoding": {
      "x": {"field": "compound", "type": "nominal", "scale": {"type": "point", "domain": ["_a","_b","PFBS","PFPeS","PFHxS","PFHpS","PFNS","PFDS","PFDoDS","_c","_d"], "padding": 0.923, "align": 0.2083}, "axis": null},
      "y": {"field": "value", "type": "quantitative", "scale": {"type": "log", "domain": [0.000446684, 22387.21], "nice": false},
        "axis": {"orient": "right", "title": null, "values": [0.000446684, 0.001, 0.01, 0.1, 1, 10, 100, 1000, 10000, 22387.21], "labels": false, "ticks": false, "domain": true, "domainColor": "#333333", "domainWidth": 1.1, "grid": true,
          "gridColor": {"condition": {"test": "datum.value < 0.0005 || datum.value > 20000", "value": "#333333"}, "value": "#EBEBEB"},
          "gridWidth": {"condition": {"test": "datum.value < 0.0005 || datum.value > 20000 || datum.value == 0.01 || datum.value == 1 || datum.value == 100 || datum.value == 10000", "value": 1.1}, "value": 0.8}}},
      "color": {"field": "compound", "type": "nominal", "scale": {"domain": ["PFBS","PFPeS","PFHxS","PFHpS","PFNS","PFDS","PFDoDS"], "range": ["#F8766D","#C49A00","#53B400","#00C094","#00B6EB","#A58AFF","#FB61D7"]}},
      "shape": {"field": "compound", "type": "nominal", "scale": {"domain": ["PFBS","PFPeS","PFHxS","PFHpS","PFNS","PFDS","PFDoDS"], "range": ["circle", "M0,-1.2L1.35,1.1L-1.35,1.1Z", "square", "M-1.05,-1.05L1.05,1.05M-1.05,1.05L1.05,-1.05", "M0,1.2L1.35,-1.1L-1.35,-1.1Z", "M-1.45,0L1.45,0M0,-1.45L0,1.45", "M-1.3,0L1.3,0M0,-1.3L0,1.3M-0.95,-0.95L0.95,0.95M-0.95,0.95L0.95,-0.95"]}}
     }},
    {"data": {"name": "pts"}, "transform": [{"filter": "datum.category == 'marine mammal'"}, {"aggregate": [{"op": "count", "as": "n"}, {"op": "max", "field": "value", "as": "vmax"}], "groupby": ["compound"]}],
     "mark": {"type": "text", "dy": -76.5, "fontSize": 19, "color": "#000000", "baseline": "middle", "align": "center"},
     "encoding": {"x": {"field": "compound", "type": "nominal", "scale": {"type": "point", "domain": ["_a","_b","PFBS","PFPeS","PFHxS","PFHpS","PFNS","PFDS","PFDoDS","_c","_d"], "padding": 0.923, "align": 0.2083}, "axis": null},
       "y": {"field": "vmax", "type": "quantitative"}, "text": {"field": "n", "type": "quantitative"}}}
   ],
   "resolve": {"scale": {"x": "independent"}}
  }
 ]
}
